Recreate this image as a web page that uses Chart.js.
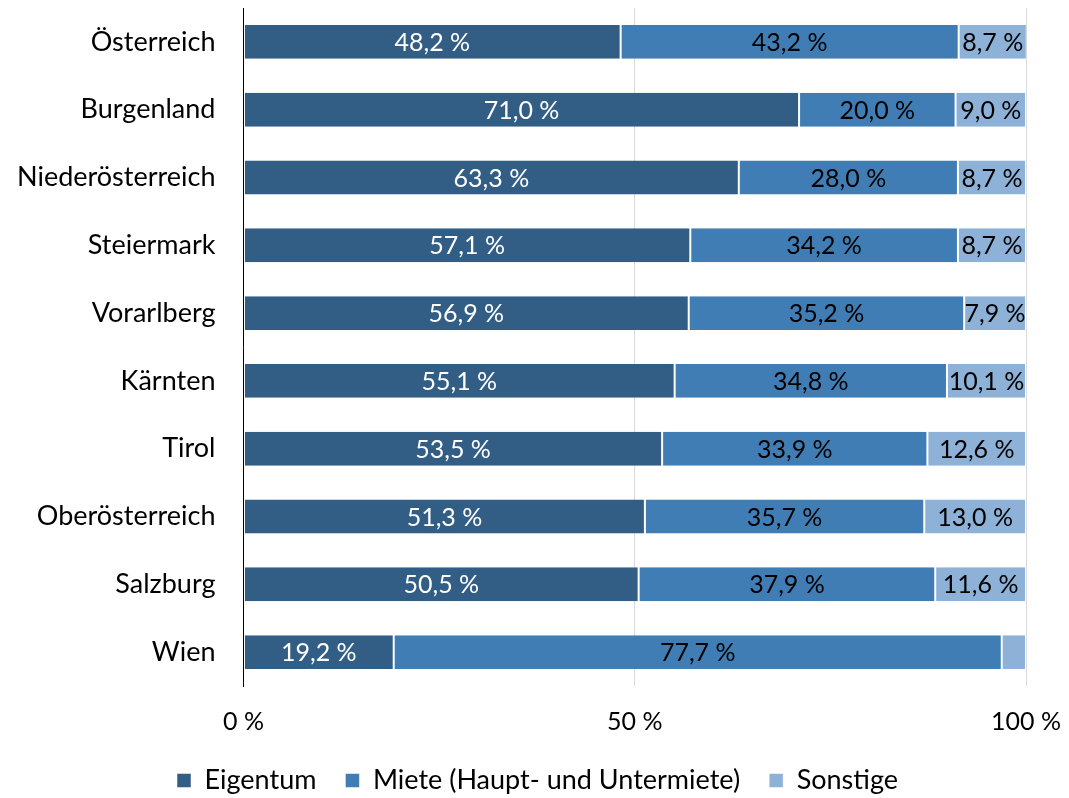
<!DOCTYPE html>
<html lang="de">
<head>
<meta charset="UTF-8">
<title>Rechtsverhältnis</title>
<script src="https://cdn.jsdelivr.net/npm/chart.js"></script>
<style>
    html, body { margin: 0; padding: 0; background: #fff; }
    #wrap { width: 1069px; height: 798px; }
</style>
</head>
<body>
<div id="wrap"><canvas id="chart"></canvas></div>
<script>
    const regionen = ['Österreich', 'Burgenland', 'Niederösterreich', 'Steiermark', 'Vorarlberg', 'Kärnten', 'Tirol', 'Oberösterreich', 'Salzburg', 'Wien'];
    const eigentum = [48.2, 71.0, 63.3, 57.1, 56.9, 55.1, 53.5, 51.3, 50.5, 19.2];
    const miete = [43.2, 20.0, 28.0, 34.2, 35.2, 34.8, 33.9, 35.7, 37.9, 77.7];
    const sonstige = [8.7, 9.0, 8.7, 8.7, 7.9, 10.1, 12.6, 13.0, 11.6, 3.1];
    const xTicks = [0, 50, 100];

    const fontName = 'Lato';

    function fmt(v) {
        return v.toFixed(1).replace('.', ',') + ' %';
    }

    // Werte in die Balken schreiben
    const barLabels = {
        id: 'barLabels',
        afterDatasetsDraw(chart) {
            const ctx = chart.ctx;
            ctx.save();
            ctx.font = '25px ' + fontName;
            ctx.textAlign = 'center';
            ctx.textBaseline = 'middle';
            chart.data.datasets.forEach((ds, i) => {
                const meta = chart.getDatasetMeta(i);
                meta.data.forEach((bar, j) => {
                    const v = ds.data[j];
                    if (v < 5) return;
                    ctx.fillStyle = i === 0 ? '#ffffff' : '#000000';
                    ctx.fillText(fmt(v), (bar.x + bar.base) / 2, bar.y + 1);
                });
            });
            ctx.restore();
        }
    };

    // Legende etwas nach rechts rücken
    const legendShift = {
        id: 'legendShift',
        afterLayout(chart) {
            chart.legend.left += 30;
            chart.legend.right += 30;
        }
    };

    const common = {
        borderColor: '#ffffff',
        borderWidth: { left: 1, right: 1, top: 0, bottom: 0 },
        borderSkipped: false,
        categoryPercentage: 1.0,
        barPercentage: 0.5
    };

    new Chart(document.getElementById('chart'), {
        type: 'bar',
        data: {
            labels: regionen,
            datasets: [
                { label: 'Eigentum', data: eigentum, backgroundColor: '#325e86', ...common },
                { label: 'Miete (Haupt- und Untermiete)', data: miete, backgroundColor: '#417db5', ...common },
                { label: 'Sonstige', data: sonstige, backgroundColor: '#8db1d7', ...common }
            ]
        },
        options: {
            indexAxis: 'y',
            responsive: true,
            maintainAspectRatio: false,
            animation: false,
            layout: { padding: { top: 8, right: 43, left: -11, bottom: -6 } },
            plugins: {
                legend: {
                    position: 'bottom',
                    labels: {
                        font: { family: fontName, size: 27 },
                        color: '#000',
                        boxWidth: 14,
                        boxHeight: 14,
                        padding: 29
                    }
                },
                tooltip: { enabled: false }
            },
            scales: {
                x: {
                    stacked: true,
                    min: 0,
                    max: 100,
                    afterBuildTicks(axis) {
                        axis.ticks = xTicks.map(v => ({ value: v }));
                    },
                    afterFit(scale) {
                        scale.paddingLeft = 0;
                        scale.paddingRight = 0;
                        scale.height = 52;
                    },
                    ticks: {
                        callback: v => v + ' %',
                        font: { family: fontName, size: 25 },
                        color: '#000',
                        padding: 21
                    },
                    grid: { color: '#d9d9d9', drawTicks: false },
                    border: { display: false }
                },
                y: {
                    stacked: true,
                    afterFit(scale) {
                        scale.paddingTop = 0;
                        scale.paddingBottom = 0;
                    },
                    ticks: {
                        font: { family: fontName, size: 27 },
                        color: '#000',
                        padding: 28
                    },
                    grid: { display: false, drawTicks: false },
                    border: { color: '#000', width: 1 }
                }
            }
        },
        plugins: [barLabels, legendShift]
    });
</script>
</body>
</html>
